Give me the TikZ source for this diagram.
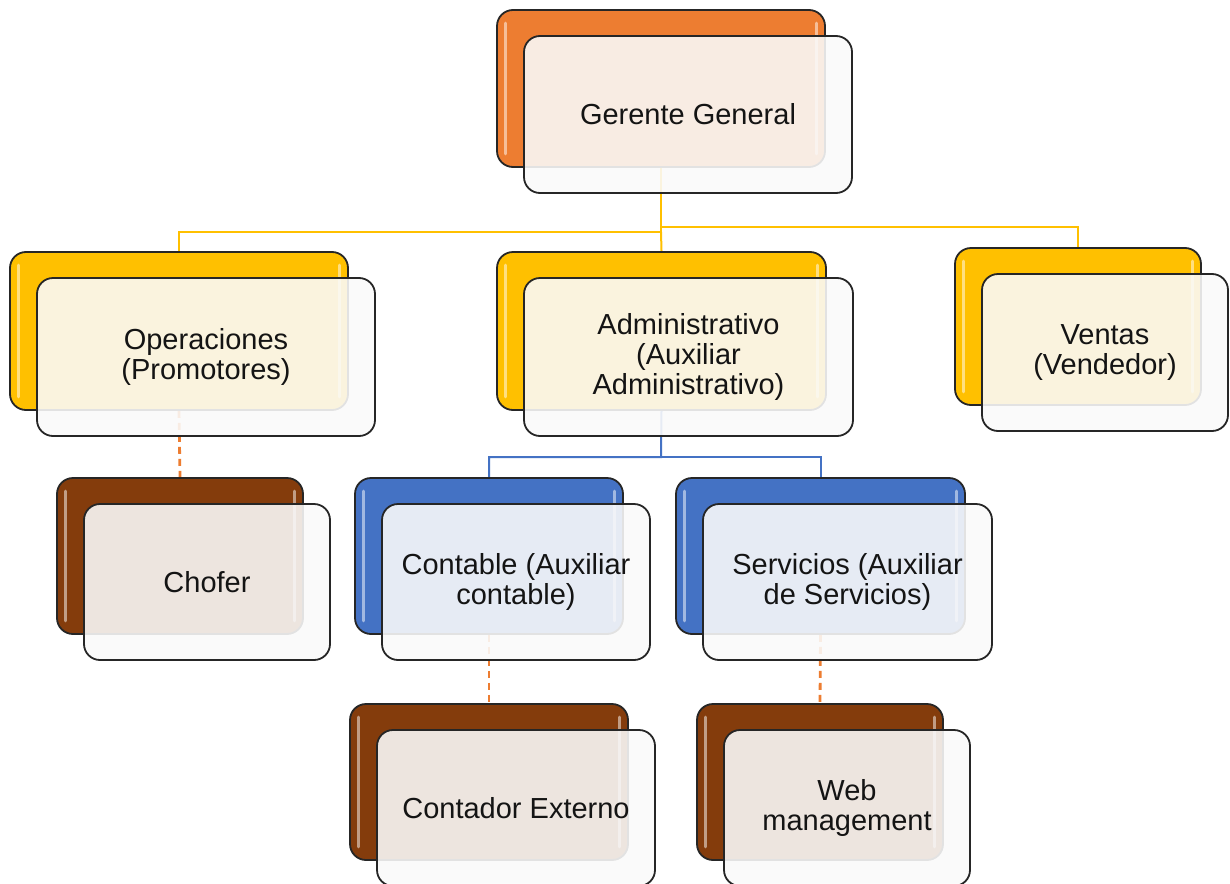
\documentclass[tikz,border=0pt]{standalone}
\usepackage{fontspec}
\setmainfont{Liberation Sans}
\usetikzlibrary{backgrounds}

\definecolor{cOrange}{HTML}{ED7D31}
\definecolor{cGold}{HTML}{FFC000}
\definecolor{cBlue}{HTML}{4472C4}
\definecolor{cBrown}{HTML}{843C0C}
\definecolor{cEdge}{HTML}{262626}
\definecolor{cText}{HTML}{141414}

% One unit of the chart: a coloured card with a translucent label card on top
% #1 name, #2 colour, #3 x, #4 y (centre of coloured card), #5 width, #6 height, #7 label
\newcommand\orgunit[7]{%
  \node[backcard, fill=#2, minimum width=#5, minimum height=#6] (#1) at (#3,#4) {};
  \draw[gloss] ([shift={(9,14)}]#1.north west) -- ([shift={(9,-14)}]#1.south west);
  \draw[gloss] ([shift={(-9,14)}]#1.north east) -- ([shift={(-9,-14)}]#1.south east);
  \node[frontcard, minimum width=#5, minimum height=#6] (#1f) at ([shift={(27,26)}]#1.center) {#7};
}

\begin{document}
\begin{tikzpicture}[x=1pt, y=-1pt,
  backcard/.style={draw=cEdge, line width=1.8pt, rounded corners=16pt, inner sep=0pt},
  frontcard/.style={draw=cEdge, line width=1.8pt, rounded corners=16pt, inner sep=0pt,
    fill=white!98!black, fill opacity=0.89, text opacity=1, text=cText, align=center,
    font=\fontsize{29}{30}\selectfont},
  gloss/.style={white, line width=3pt, line cap=round, opacity=0.5},
  goldlink/.style={draw=cGold, line width=2pt},
  bluelink/.style={draw=cBlue, line width=2pt},
  dashlink/.style={draw=cOrange, line width=2.8pt, dash pattern=on 7pt off 5pt},
]
\useasboundingbox (0,0) rectangle (1230,883);

% --- cards ---
\orgunit{gg}{cOrange}{661}{88.5}{328}{157}{Gerente General}
\orgunit{op}{cGold}{179}{331}{338}{158}{Operaciones\\(Promotores)}
\orgunit{ad}{cGold}{661.5}{331}{329}{158}{Administrativo\\(Auxiliar\\Administrativo)}
\orgunit{ve}{cGold}{1078}{326.5}{246}{157}{Ventas\\(Vendedor)}
\orgunit{ch}{cBrown}{180}{556}{246}{156}{Chofer}
\orgunit{co}{cBlue}{489}{556}{268}{156}{Contable (Auxiliar\\contable)}
\orgunit{se}{cBlue}{820.5}{556}{289}{156}{Servicios (Auxiliar\\de Servicios)}
\orgunit{ce}{cBrown}{489}{782}{278}{156}{Contador Externo}
\orgunit{wm}{cBrown}{820}{782}{246}{156}{Web\\management}

% --- connectors, kept beneath the cards ---
\begin{pgfonlayer}{background}
  \fill[white] (0,0) rectangle (1230,883);
  \coordinate (goldbusL) at (661,232);
  \coordinate (goldbusR) at (661,227);
  \coordinate (bluebus) at (661,457);
  \draw[goldlink] (gg.south) -- (goldbusL) -| (op.north);
  \draw[goldlink] (goldbusL) -- (ad.north);
  \draw[goldlink] (goldbusR) -| (ve.north);
  \draw[bluelink] (ad.south) -- (bluebus) -| (co.north);
  \draw[bluelink] (bluebus) -| (se.north);
  \draw[dashlink] (op.south) -- (ch.north);
  \draw[dashlink] (co.south) -- (ce.north);
  \draw[dashlink] (se.south) -- (wm.north);
\end{pgfonlayer}
\end{tikzpicture}
\end{document}
